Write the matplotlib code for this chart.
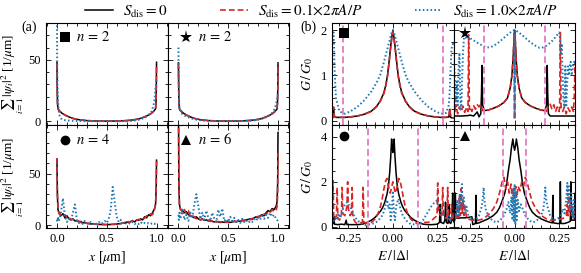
import matplotlib
matplotlib.use('Agg')
import matplotlib.pyplot as plt
from matplotlib.ticker import MultipleLocator

plt.rcParams['font.family'] = 'serif'
plt.rcParams['font.serif'] = ['Liberation Serif', 'DejaVu Serif']
plt.rcParams['mathtext.fontset'] = 'stix'
plt.rcParams['font.size'] = 9.5

# ---------------- (a) densities ----------------
xa = [0, 0.002, 0.005, 0.01, 0.02, 0.03, 0.05, 0.08, 0.12, 0.16,
      0.2, 0.25, 0.3, 0.4, 0.5, 0.6, 0.7, 0.75, 0.8, 0.84,
      0.88, 0.92, 0.95, 0.97, 0.98, 0.99, 0.995, 0.998, 1.0]
rho_sq_k = [48, 30, 15, 10, 9, 8, 6.5, 5, 3.5, 2.3,
            1.5, 0.9, 0.5, 0.15, 0.05, 0.15, 0.5, 0.9, 1.5, 2.3,
            3.5, 5, 6.5, 8, 9, 10, 15, 30, 48]
rho_sq_r = [47, 29, 15, 10, 9, 7.8, 6.5, 5, 3.6, 2.3,
            1.5, 0.9, 0.5, 0.15, 0.05, 0.15, 0.5, 0.9, 1.5, 2.4,
            3.5, 5, 6.6, 8, 9, 10.5, 15, 29, 47]
rho_sq_b = [78, 50, 30, 16, 7, 3, 1.5, 0.8, 0.5, 0.3,
            0.2, 0.1, 0.05, 0, 0, 0, 0.1, 0.3, 0.8, 1.5,
            3, 5, 8, 13, 18, 27, 31, 33, 34]
rho_st_k = [47.5, 30, 15, 10, 9, 8, 6.5, 5, 3.5, 2.3,
            1.5, 0.9, 0.5, 0.15, 0.05, 0.15, 0.5, 0.9, 1.5, 2.3,
            3.5, 5, 6.5, 8, 9, 10, 15, 30, 47.5]
rho_st_r = [47, 29, 15, 10, 9, 7.8, 6.5, 5, 3.6, 2.3,
            1.5, 0.9, 0.5, 0.15, 0.05, 0.15, 0.5, 0.9, 1.5, 2.4,
            3.5, 5, 6.6, 8, 9, 10.5, 15, 29, 47]
rho_st_b = [60, 35, 18, 11, 8, 6.5, 5, 3.8, 2.5, 1.6,
            1.0, 0.5, 0.3, 0.1, 0.05, 0.1, 0.3, 0.6, 1.2, 2.0,
            3.2, 5, 7.5, 11, 14, 18, 20, 21, 22]

xb = [0, 0.004, 0.01] + [round(0.02 * k, 2) for k in range(1, 50)] + [0.99, 0.996, 1.0]
rho_ci_k = [64, 30, 15, 12, 9, 11, 7, 9, 6, 5,
            6, 4, 4, 3, 3.5, 2, 2.5, 1.5, 1.5, 1,
            1.2, 0.8, 0.8, 0.5, 0.6, 0.4, 0.5, 0.4, 0.5, 0.5,
            0.7, 0.6, 1, 1.2, 1.5, 2, 1.8, 3, 2.5, 3.5,
            4, 3, 5, 4.5, 6, 5, 8, 7, 10, 9,
            12, 16, 20, 35, 63]
rho_ci_r = [65, 32, 16, 11, 10, 8, 10, 7, 8, 5,
            5.5, 5, 3.5, 4, 2.5, 3, 2, 2, 1.2, 1.4,
            0.9, 1, 0.6, 0.7, 0.4, 0.6, 0.4, 0.5, 0.4, 0.6,
            0.6, 0.9, 0.8, 1.5, 1.2, 1.8, 2.5, 2.2, 3.2, 3,
            4.5, 3.8, 4.5, 5.5, 5, 7, 6.5, 9, 8, 11,
            10, 15, 21, 33, 62]
rho_ci_b = [5, 3, 8, 4, 12, 26, 8, 3, 6, 4,
            12, 20, 5, 2, 3, 1, 4, 2, 1, 3,
            1, 2, 1, 3, 1, 2, 4, 2, 6, 15,
            37, 22, 8, 3, 5, 2, 3, 1, 2, 1,
            3, 1, 2, 1, 3, 1, 2, 1, 2, 1,
            2, 1, 2, 1, 1]
rho_tr_k = [120, 40, 20, 15, 14, 12, 13, 10, 9, 8,
            7, 8, 6, 5, 6, 4.5, 5, 4, 4, 3.5,
            3, 3.5, 3, 2.5, 3, 2.5, 3, 3, 2.5, 3,
            3.5, 3, 4, 3.5, 4.5, 4, 5, 5.5, 6, 5.5,
            7, 8, 7, 9, 10, 9, 12, 14, 13, 16,
            15, 18, 22, 40, 90]
rho_tr_r = [120, 42, 19, 16, 12, 15, 11, 14, 8, 9,
            8, 6, 7, 5, 5.5, 5, 4, 4.5, 3.5, 4,
            3.5, 3, 3.5, 3, 2.5, 3.5, 2.5, 3, 3.5, 3,
            4, 3.5, 3.5, 4.5, 4, 5, 4.5, 6, 5, 6.5,
            6, 7.5, 8.5, 8, 10, 11, 10, 13, 12, 15,
            13, 14, 18, 30, 70]
rho_tr_b = [10, 5, 12, 6, 15, 5, 10, 4, 12, 8,
            20, 30, 18, 6, 12, 5, 14, 7, 4, 12,
            6, 3, 15, 8, 16, 4, 6, 3, 8, 4,
            7, 3, 5, 2, 6, 3, 5, 2, 4, 3,
            6, 4, 8, 5, 9, 6, 10, 7, 12, 8,
            10, 6, 5, 4, 3]

# ---------------- (b) conductance ----------------
E_1 = [-0.345, -0.338, -0.333, -0.328, -0.32, -0.3, -0.27, -0.24, -0.2, -0.16,
       -0.12, -0.09, -0.07, -0.05, -0.04, -0.03, -0.02, -0.012, -0.006, 0,
       0.006, 0.012, 0.02, 0.03, 0.04, 0.05, 0.07, 0.09, 0.12, 0.16,
       0.2, 0.24, 0.27, 0.3, 0.315, 0.32, 0.325, 0.33, 0.338, 0.345]
G_1k = [0.05, 0.06, 0.28, 0.08, 0.07, 0.07, 0.07, 0.08, 0.1, 0.14,
        0.21, 0.32, 0.44, 0.62, 0.78, 1.0, 1.35, 1.65, 1.85, 2.0,
        1.85, 1.65, 1.35, 1.0, 0.78, 0.62, 0.44, 0.32, 0.21, 0.14,
        0.1, 0.08, 0.07, 0.07, 0.08, 0.25, 0.07, 0.06, 0.06, 0.06]
G_1r = [0.06, 0.07, 0.3, 0.09, 0.07, 0.07, 0.07, 0.08, 0.1, 0.14,
        0.2, 0.31, 0.43, 0.6, 0.76, 0.98, 1.32, 1.62, 1.82, 1.96,
        1.82, 1.62, 1.32, 0.98, 0.76, 0.6, 0.43, 0.31, 0.2, 0.14,
        0.1, 0.08, 0.07, 0.07, 0.09, 0.27, 0.08, 0.06, 0.06, 0.07]
G_1b = [1.5, 1.9, 1.95, 1.2, 0.5, 0.2, 0.15, 0.2, 0.3, 0.45,
        0.65, 0.85, 1.02, 1.3, 1.45, 1.6, 1.75, 1.87, 1.95, 2.0,
        1.95, 1.87, 1.75, 1.6, 1.45, 1.3, 1.02, 0.85, 0.65, 0.45,
        0.3, 0.2, 0.15, 0.17, 0.35, 0.7, 1.2, 1.6, 1.7, 1.65]

E_2k = [-0.345, -0.3, -0.26, -0.25, -0.23, -0.21, -0.2, -0.19, -0.186, -0.183,
        -0.18, -0.17, -0.15, -0.12, -0.09, -0.06, -0.04, -0.025, -0.015, -0.008,
        -0.004, -0.002, 0, 0.002, 0.004, 0.008, 0.015, 0.025, 0.04, 0.06,
        0.09, 0.12, 0.15, 0.17, 0.18, 0.183, 0.186, 0.19, 0.2, 0.25,
        0.3, 0.345]
G_2k = [0.1, 0.1, 0.11, 0.12, 0.1, 0.19, 0.08, 0.15, 0.6, 1.22,
        0.35, 0.22, 0.23, 0.27, 0.32, 0.4, 0.5, 0.72, 1.0, 1.4,
        1.75, 1.92, 2.0, 1.92, 1.75, 1.4, 1.0, 0.72, 0.5, 0.4,
        0.32, 0.27, 0.23, 0.22, 0.35, 1.22, 0.6, 0.15, 0.1, 0.1,
        0.1, 0.1]
E_2r = [-0.345, -0.34, -0.335, -0.33, -0.32, -0.31, -0.3, -0.29, -0.28, -0.27,
        -0.262, -0.258, -0.254, -0.25, -0.24, -0.23, -0.22, -0.21, -0.2, -0.19,
        -0.18, -0.17, -0.15, -0.12, -0.09, -0.06, -0.04, -0.025, -0.015, -0.008,
        -0.004, -0.002, 0, 0.002, 0.004, 0.008, 0.015, 0.025, 0.04, 0.06,
        0.09, 0.12, 0.15, 0.17, 0.18, 0.19, 0.2, 0.21, 0.22, 0.23,
        0.24, 0.25, 0.253, 0.257, 0.261, 0.27, 0.28, 0.29, 0.3, 0.31,
        0.32, 0.33, 0.335, 0.34, 0.345]
G_2r = [0.3, 0.9, 0.2, 0.35, 0.15, 0.3, 0.2, 0.32, 0.18, 0.3,
        0.2, 1.9, 0.25, 0.3, 0.2, 0.33, 0.25, 0.35, 0.3, 0.36,
        0.22, 0.22, 0.23, 0.27, 0.32, 0.4, 0.5, 0.72, 1.0, 1.4,
        1.75, 1.92, 0.02, 1.92, 1.75, 1.4, 1.0, 0.72, 0.5, 0.4,
        0.32, 0.27, 0.23, 0.22, 0.2, 0.33, 0.36, 0.25, 0.35, 0.2,
        0.3, 0.2, 0.3, 1.95, 0.3, 0.2, 0.3, 0.15, 0.28, 0.2,
        0.3, 0.2, 0.5, 1.3, 0.4]
E_2b = [-0.345, -0.34, -0.335, -0.33, -0.325, -0.32, -0.315, -0.31, -0.305, -0.3,
        -0.295, -0.29, -0.285, -0.28, -0.275, -0.27, -0.26, -0.25, -0.24, -0.22,
        -0.2, -0.18, -0.16, -0.14, -0.12, -0.1, -0.08, -0.06, -0.04, -0.02,
        -0.01, -0.003, -0.001, 0, 0.001, 0.003, 0.01, 0.02, 0.04, 0.06,
        0.08, 0.1, 0.12, 0.14, 0.16, 0.18, 0.2, 0.22, 0.24, 0.25,
        0.255, 0.26, 0.265, 0.27, 0.275, 0.28, 0.285, 0.29, 0.295, 0.3,
        0.305, 0.31, 0.315, 0.32, 0.325, 0.33, 0.335, 0.34, 0.345]
G_2b = [1.0, 1.25, 0.8, 0.4, 0.9, 0.3, 1.1, 1.5, 0.5, 0.25,
        0.9, 1.5, 1.8, 1.95, 1.85, 1.8, 1.85, 1.82, 1.8, 1.75,
        1.7, 1.66, 1.62, 1.62, 1.65, 1.7, 1.76, 1.83, 1.9, 1.96,
        1.99, 2.0, 0.5, 0.05, 0.5, 2.0, 1.99, 1.96, 1.9, 1.83,
        1.76, 1.7, 1.65, 1.61, 1.62, 1.66, 1.72, 1.8, 1.9, 1.95,
        1.85, 1.5, 1.7, 1.0, 0.4, 0.3, 1.2, 0.3, 0.8, 1.2,
        1.0, 1.2, 1.3, 1.0, 1.1, 1.25, 1.3, 1.25, 1.3]

E_3k = [-0.345, -0.336, -0.332, -0.328, -0.31, -0.29, -0.27, -0.262, -0.258, -0.25,
        -0.22, -0.2, -0.17, -0.145, -0.12, -0.1, -0.08, -0.065, -0.055, -0.045,
        -0.033, -0.025, -0.018, -0.012, -0.007, -0.004, 0, 0.004, 0.007, 0.012,
        0.018, 0.025, 0.033, 0.045, 0.055, 0.065, 0.08, 0.1, 0.12, 0.145,
        0.17, 0.2, 0.22, 0.25, 0.262, 0.266, 0.27, 0.285, 0.292, 0.296,
        0.3, 0.31, 0.314, 0.318, 0.325, 0.332, 0.336, 0.34, 0.345]
G_3k = [0.1, 0.15, 0.45, 0.12, 0.1, 0.12, 0.1, 0.3, 0.1, 0.1,
        0.1, 0.1, 0.12, 0.2, 0.3, 0.42, 0.6, 0.75, 0.9, 1.1,
        1.45, 1.8, 2.4, 3.1, 3.9, 3.6, 3.3, 3.6, 3.9, 3.1,
        2.4, 1.8, 1.45, 1.1, 0.9, 0.75, 0.6, 0.42, 0.3, 0.2,
        0.12, 0.1, 0.1, 0.12, 0.2, 1.0, 0.2, 0.15, 0.3, 1.1,
        0.2, 0.15, 1.0, 0.2, 0.15, 0.3, 1.5, 0.3, 0.2]
E_3r = [-0.345, -0.34, -0.336, -0.332, -0.325, -0.317, -0.313, -0.309, -0.3, -0.289,
        -0.285, -0.281, -0.27, -0.258, -0.254, -0.25, -0.24, -0.233, -0.229, -0.225,
        -0.21, -0.2, -0.171, -0.167, -0.163, -0.14, -0.12, -0.1, -0.085, -0.07,
        -0.06, -0.05, -0.04, -0.033, -0.025, -0.015, -0.008, 0, 0.008, 0.015,
        0.025, 0.033, 0.04, 0.05, 0.06, 0.07, 0.085, 0.1, 0.12, 0.14,
        0.16, 0.18, 0.2, 0.22, 0.248, 0.252, 0.256, 0.27, 0.276, 0.28,
        0.284, 0.3, 0.304, 0.308, 0.312, 0.32, 0.325, 0.329, 0.333, 0.34,
        0.345]
G_3r = [0.3, 0.8, 2.05, 0.4, 0.3, 0.5, 1.75, 0.4, 0.3, 0.5,
        1.75, 0.6, 0.5, 0.9, 2.0, 0.8, 0.5, 0.6, 1.75, 0.4,
        0.2, 0.15, 0.2, 1.75, 0.2, 0.15, 0.2, 0.35, 0.55, 0.9,
        1.25, 1.7, 2.05, 2.15, 1.8, 1.5, 1.7, 2.0, 1.7, 1.5,
        1.8, 2.15, 2.05, 1.7, 1.25, 0.9, 0.55, 0.35, 0.2, 0.15,
        0.15, 0.2, 0.2, 0.3, 0.5, 1.95, 0.6, 0.5, 0.6, 1.75,
        0.5, 0.4, 0.5, 1.75, 0.4, 0.3, 0.4, 1.0, 0.3, 0.5,
        0.3]
E_3b = [-0.345, -0.335, -0.325, -0.315, -0.305, -0.295, -0.285, -0.275, -0.265, -0.255,
        -0.245, -0.235, -0.225, -0.215, -0.2, -0.185, -0.17, -0.155, -0.14, -0.125,
        -0.11, -0.095, -0.08, -0.07, -0.06, -0.05, -0.04, -0.032, -0.025, -0.018,
        -0.012, -0.006, 0, 0.006, 0.012, 0.018, 0.025, 0.032, 0.04, 0.05,
        0.06, 0.07, 0.08, 0.095, 0.11, 0.125, 0.14, 0.155, 0.17, 0.185,
        0.2, 0.215, 0.225, 0.235, 0.245, 0.255, 0.265, 0.275, 0.285, 0.295,
        0.305, 0.315, 0.325, 0.335, 0.345]
G_3b = [0.5, 0.2, 0.4, 0.3, 0.6, 0.4, 0.7, 0.9, 1.05, 1.1,
        0.95, 0.8, 0.6, 0.45, 0.3, 0.2, 0.12, 0.08, 0.1, 0.12,
        0.15, 0.2, 0.3, 0.4, 0.5, 0.7, 1.0, 1.2, 0.8, 1.0,
        0.3, 0.7, 1.6, 0.6, 0.3, 0.9, 1.1, 1.25, 0.9, 0.6,
        0.45, 0.35, 0.25, 0.15, 0.12, 0.1, 0.1, 0.15, 0.3, 0.5,
        0.7, 0.9, 1.0, 1.1, 1.15, 1.0, 0.8, 0.6, 0.5, 0.4,
        0.3, 0.5, 0.3, 0.5, 0.6]

E_4k = [-0.345, -0.337, -0.333, -0.329, -0.32, -0.3, -0.28, -0.26, -0.24, -0.235,
        -0.22, -0.217, -0.214, -0.2, -0.18, -0.15, -0.12, -0.1, -0.085, -0.07,
        -0.055, -0.045, -0.035, -0.025, -0.018, -0.01, -0.005, 0, 0.005, 0.01,
        0.018, 0.025, 0.035, 0.045, 0.055, 0.07, 0.085, 0.1, 0.12, 0.15,
        0.18, 0.2, 0.212, 0.215, 0.218, 0.24, 0.254, 0.257, 0.26, 0.28,
        0.3, 0.313, 0.316, 0.319, 0.33, 0.337, 0.34, 0.345]
G_4k = [0.4, 0.4, 1.5, 0.4, 0.38, 0.4, 0.4, 0.42, 0.45, 0.1,
        0.15, 1.4, 0.15, 0.18, 0.25, 0.35, 0.5, 0.65, 0.85, 1.15,
        1.5, 1.9, 2.5, 3.0, 3.5, 3.9, 3.6, 3.4, 3.6, 3.9,
        3.5, 3.0, 2.5, 1.9, 1.5, 1.15, 0.85, 0.65, 0.5, 0.35,
        0.25, 0.2, 0.18, 1.4, 0.18, 0.15, 0.15, 2.0, 0.15, 0.15,
        0.2, 0.25, 2.0, 0.3, 0.3, 0.3, 1.5, 0.4]
E_4r = [-0.345, -0.34, -0.335, -0.33, -0.325, -0.32, -0.315, -0.31, -0.305, -0.3,
        -0.295, -0.29, -0.285, -0.28, -0.27, -0.26, -0.24, -0.22, -0.2, -0.18,
        -0.16, -0.14, -0.12, -0.1, -0.085, -0.07, -0.06, -0.05, -0.04, -0.03,
        -0.02, -0.012, -0.006, 0, 0.006, 0.012, 0.02, 0.03, 0.04, 0.05,
        0.06, 0.07, 0.085, 0.1, 0.12, 0.14, 0.16, 0.18, 0.2, 0.22,
        0.24, 0.26, 0.28, 0.29, 0.295, 0.3, 0.305, 0.31, 0.315, 0.32,
        0.325, 0.33, 0.335, 0.34, 0.345]
G_4r = [0.3, 0.5, 0.3, 0.6, 0.4, 1.0, 0.4, 1.4, 0.5, 1.7,
        0.6, 1.2, 0.5, 0.9, 0.4, 0.35, 0.3, 0.3, 0.3, 0.35,
        0.45, 0.6, 0.8, 1.1, 1.5, 2.0, 2.2, 1.7, 2.0, 1.5,
        1.9, 1.2, 1.7, 1.4, 1.8, 1.3, 1.8, 1.6, 2.0, 1.8,
        2.2, 2.0, 1.5, 1.1, 0.8, 0.6, 0.45, 0.35, 0.3, 0.3,
        0.3, 0.35, 0.4, 0.5, 1.0, 0.5, 1.4, 0.6, 1.2, 0.5,
        0.9, 0.4, 0.7, 0.4, 0.5]
E_4b = [-0.345, -0.338, -0.33, -0.322, -0.315, -0.308, -0.3, -0.296, -0.292, -0.285,
        -0.278, -0.27, -0.26, -0.24, -0.22, -0.2, -0.185, -0.178, -0.174, -0.17,
        -0.16, -0.14, -0.12, -0.1, -0.08, -0.06, -0.045, -0.035, -0.025, -0.018,
        -0.012, -0.008, -0.004, 0, 0.004, 0.008, 0.012, 0.018, 0.025, 0.035,
        0.045, 0.06, 0.08, 0.1, 0.12, 0.14, 0.16, 0.168, 0.172, 0.176,
        0.185, 0.2, 0.22, 0.24, 0.26, 0.27, 0.28, 0.29, 0.296, 0.3,
        0.304, 0.31, 0.318, 0.325, 0.333, 0.34, 0.345]
G_4b = [0.3, 0.8, 0.4, 1.2, 0.5, 1.5, 0.8, 1.9, 1.0, 1.3,
        0.6, 0.9, 0.5, 0.35, 0.3, 0.5, 0.9, 1.3, 1.75, 1.2,
        0.7, 0.4, 0.25, 0.2, 0.3, 0.5, 0.8, 1.1, 0.6, 1.3,
        0.3, 1.7, 0.2, 1.9, 0.1, 1.6, 0.3, 1.2, 0.7, 1.0,
        0.8, 0.5, 0.3, 0.2, 0.25, 0.4, 0.7, 1.2, 1.75, 1.3,
        0.9, 0.5, 0.3, 0.35, 0.5, 0.8, 0.6, 1.2, 1.95, 1.0,
        1.8, 0.7, 1.5, 0.5, 1.2, 0.4, 0.6]

# gap edges (pink dashed lines)
gap_E = [0.28, 0.173, 0.14, 0.065]

markers = ['s', '*', 'o', '^']
n_labels = [r'$n\,=\,2$', r'$n\,=\,2$', r'$n\,=\,4$', r'$n\,=\,6$']
labels = [r'$S_\mathrm{dis} = 0$',
          r'$S_\mathrm{dis} = 0.1{\times}2\pi A/P$',
          r'$S_\mathrm{dis} = 1.0{\times}2\pi A/P$']

KC = 'black'
RC = '#d62728'
BC = '#1f77b4'
PC = '#e377c2'

fig = plt.figure(figsize=(5.81, 2.73), dpi=100)
gsa = fig.add_gridspec(2, 2, left=0.0792, right=0.4974, top=0.9158, bottom=0.1648,
                       wspace=0, hspace=0)
gsb = fig.add_gridspec(2, 2, left=0.5714, right=0.9905, top=0.9158, bottom=0.1648,
                       wspace=0, hspace=0)

def style(ax):
  ax.tick_params(which='both', direction='in', top=True, right=True, width=0.6,
                 labelsize=9)
  ax.tick_params(which='major', length=3.5)
  ax.tick_params(which='minor', length=2)
  for s in ax.spines.values():
    s.set_linewidth(0.8)

dens = [(xa, rho_sq_k, rho_sq_r, rho_sq_b), (xa, rho_st_k, rho_st_r, rho_st_b),
        (xb, rho_ci_k, rho_ci_r, rho_ci_b), (xb, rho_tr_k, rho_tr_r, rho_tr_b)]
cond = [(E_1, G_1k, E_1, G_1r, E_1, G_1b), (E_2k, G_2k, E_2r, G_2r, E_2b, G_2b),
        (E_3k, G_3k, E_3r, G_3r, E_3b, G_3b), (E_4k, G_4k, E_4r, G_4r, E_4b, G_4b)]

handles = []
for i in range(4):
  r, c = i // 2, i % 2
  # panel (a)
  ax = fig.add_subplot(gsa[r, c])
  x, yk, yr, yb = dens[i]
  lk, = ax.plot(x, yk, color=KC, lw=1.1)
  lr, = ax.plot(x, yr, color=RC, lw=1.2, ls=(0, (3.5, 1.8)))
  lb, = ax.plot(x, yb, color=BC, lw=1.4, ls=(0, (0.8, 1.2)))
  if i == 0:
    handles = [lk, lr, lb]
  ax.set_xlim(-0.11, 1.11)
  if r == 0:
    ax.set_ylim(-3.5, 80)
  else:
    ax.set_ylim(-2.9, 96.7)
  ax.xaxis.set_major_locator(MultipleLocator(0.5))
  ax.xaxis.set_minor_locator(MultipleLocator(0.1))
  ax.yaxis.set_major_locator(MultipleLocator(50))
  ax.yaxis.set_minor_locator(MultipleLocator(10))
  style(ax)
  if r == 0:
    ax.tick_params(labelbottom=False)
  else:
    ax.set_xlabel(r'$x$ [$\mu$m]', labelpad=3, fontsize=10)
  if c == 1:
    ax.tick_params(labelleft=False)
  else:
    ax.set_ylabel(r'$\sum_{i=1}\,|\psi_i|^2$ [1/$\mu$m]', fontsize=9.5)
    ax.yaxis.set_label_coords(-0.165, 0.5)
  ax.plot(0.153, 0.86, marker=markers[i], color='k', ms=9.5 if i == 1 else 7,
          mew=0, transform=ax.transAxes, clip_on=False)
  ax.text(0.25, 0.86, n_labels[i], transform=ax.transAxes, va='center', ha='left',
          fontsize=10.5)

  # panel (b)
  ax = fig.add_subplot(gsb[r, c])
  Ek, Gk, Er, Gr, Eb, Gb = cond[i]
  ax.plot(Ek, Gk, color=KC, lw=1.1)
  ax.plot(Er, Gr, color=RC, lw=1.2, ls=(0, (3.5, 1.8)))
  ax.plot(Eb, Gb, color=BC, lw=1.4, ls=(0, (0.8, 1.2)))
  ax.axvline(-gap_E[i], color=PC, lw=1.4, ls=(0, (3.5, 1.8)), alpha=0.9)
  ax.axvline(gap_E[i], color=PC, lw=1.4, ls=(0, (3.5, 1.8)), alpha=0.9)
  ax.set_xlim(-0.342, 0.342)
  ax.xaxis.set_major_locator(MultipleLocator(0.25))
  ax.xaxis.set_minor_locator(MultipleLocator(0.05))
  if r == 0:
    ax.set_ylim(-0.11, 2.16)
    ax.yaxis.set_major_locator(MultipleLocator(1))
    ax.yaxis.set_minor_locator(MultipleLocator(0.25))
  else:
    ax.set_ylim(-0.05, 4.5)
    ax.yaxis.set_major_locator(MultipleLocator(2))
    ax.yaxis.set_minor_locator(MultipleLocator(0.5))
  style(ax)
  if r == 0:
    ax.tick_params(labelbottom=False)
  else:
    ax.set_xlabel(r'$E\,/\,|\Delta|$', labelpad=3, fontsize=10)
    ax.xaxis.set_major_formatter(plt.FormatStrFormatter('%.2f'))
  if c == 1:
    ax.tick_params(labelleft=False)
  else:
    ax.set_ylabel(r'$G\,/\,G_0$', labelpad=4, fontsize=10)
  ax.plot(0.095, 0.9, marker=markers[i], color='k', ms=9.5 if i == 1 else 7,
          mew=0, transform=ax.transAxes, clip_on=False)

fig.text(0.036, 0.9, '(a)', fontsize=10, va='center')
fig.text(0.517, 0.9, '(b)', fontsize=10, va='center')

fig.legend(handles, labels, loc='upper center', bbox_to_anchor=(0.553, 1.04), ncol=3,
           frameon=False, handlelength=1.8, handletextpad=0.7, columnspacing=3.4,
           fontsize=11)

fig.savefig('out.png', dpi=100)
